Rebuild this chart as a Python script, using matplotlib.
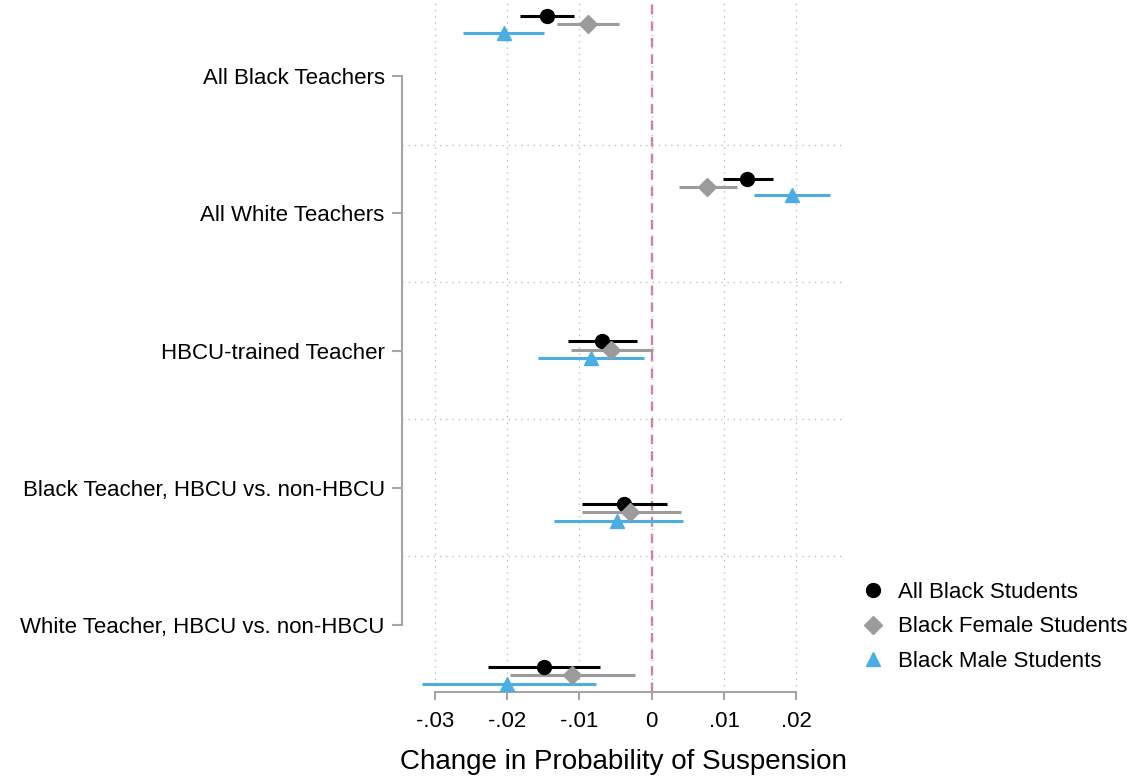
import numpy as np
import matplotlib.pyplot as plt
from matplotlib.lines import Line2D

plt.rcParams['font.family'] = ['Liberation Sans', 'DejaVu Sans']

# Row labels (top to bottom)
labels = ['All Black Teachers', 'All White Teachers', 'HBCU-trained Teacher',
          'Black Teacher, HBCU vs. non-HBCU', 'White Teacher, HBCU vs. non-HBCU']

# Point estimates and confidence bounds
all_est = [-0.0145, 0.0132, -0.0069, -0.0038, -0.0149]
all_lo  = [-0.0182, 0.0099, -0.0116, -0.0097, -0.0226]
all_hi  = [-0.0108, 0.0168, -0.0021, 0.0021, -0.0072]

fem_est = [-0.0088, 0.0077, -0.0057, -0.0030, -0.0110]
fem_lo  = [-0.0131, 0.0038, -0.0112, -0.0097, -0.0196]
fem_hi  = [-0.0045, 0.0118, 0.0002, 0.0041, -0.0023]

male_est = [-0.0204, 0.0194, -0.0084, -0.0048, -0.0200]
male_lo  = [-0.0261, 0.0142, -0.0157, -0.0135, -0.0318]
male_hi  = [-0.0149, 0.0247, -0.0011, 0.0043, -0.0077]

xticks = [-0.03, -0.02, -0.01, 0, 0.01, 0.02]
xticklabels = ['-.03', '-.02', '-.01', '0', '.01', '.02']

series = [
    ('All Black Students', all_est, all_lo, all_hi, 'black', 'o', 10, -0.06),
    ('Black Female Students', fem_est, fem_lo, fem_hi, '#9b9b9b', 'D', 9.5, 0.0),
    ('Black Male Students', male_est, male_lo, male_hi, '#4cade2', '^', 10, 0.062),
]

fig = plt.figure(figsize=(11.44, 7.79), dpi=100)
ax = fig.add_axes([402 / 1144, 1 - 692 / 779, (845 - 402) / 1144, 692 / 779])

# the estimates sit on their own (drifting) rows in the original
rows = 0.621 + 1.186 * np.arange(len(labels))

ax.grid(axis='x', linestyle=(0, (1, 4)), color='#b5b5b5', lw=0.9)
for yy in [1.5, 2.5, 3.5, 4.5]:
    ax.axhline(yy, color='#b5b5b5', linestyle=(0, (1, 4)), lw=0.9, zorder=0)
ax.axvline(0, ymax=0.993, color='#cc7eaa', linestyle=(0, (4, 3)), lw=1.7, zorder=1)

for name, est, lo, hi, col, mk, ms, off in series:
    y = rows + off
    ax.hlines(y, lo, hi, color=col, lw=2.2, zorder=2)
    ax.plot(est, y, linestyle='none', marker=mk, color=col, markersize=ms, zorder=3)

ax.set_xlim(-0.03454, 0.02672)
ax.set_ylim(5.488, 0.446)
ax.set_xticks(xticks)
ax.set_xticklabels(xticklabels, fontsize=16)
ax.set_yticks(range(1, len(labels) + 1))
ax.set_yticklabels(labels, fontsize=16)

for s in ['top', 'right']:
    ax.spines[s].set_visible(False)
ax.spines['left'].set_bounds(1, 5)
ax.spines['bottom'].set_bounds(-0.03, 0.02)
for s in ['left', 'bottom']:
    ax.spines[s].set_color('#a6a6a6')
    ax.spines[s].set_linewidth(1.5)
ax.tick_params(axis='y', length=7.5, width=1.5, color='#a6a6a6', pad=5)
ax.tick_params(axis='x', length=6, width=1.5, color='#a6a6a6', pad=8)
ax.set_xlabel('Change in Probability of Suspension', fontsize=20, labelpad=12)

handles = [Line2D([0], [0], marker=mk, color=col, linestyle='none', markersize=ms, label=name)
           for name, _, _, _, col, mk, ms, _ in series]
fig.legend(handles=handles, loc='center left', bbox_to_anchor=(862 / 1144, 1 - 627 / 779),
           frameon=False, fontsize=16, handlelength=1, handletextpad=0.6,
           labelspacing=0.6, borderpad=0, borderaxespad=0)

fig.savefig('out.png', dpi=100)
